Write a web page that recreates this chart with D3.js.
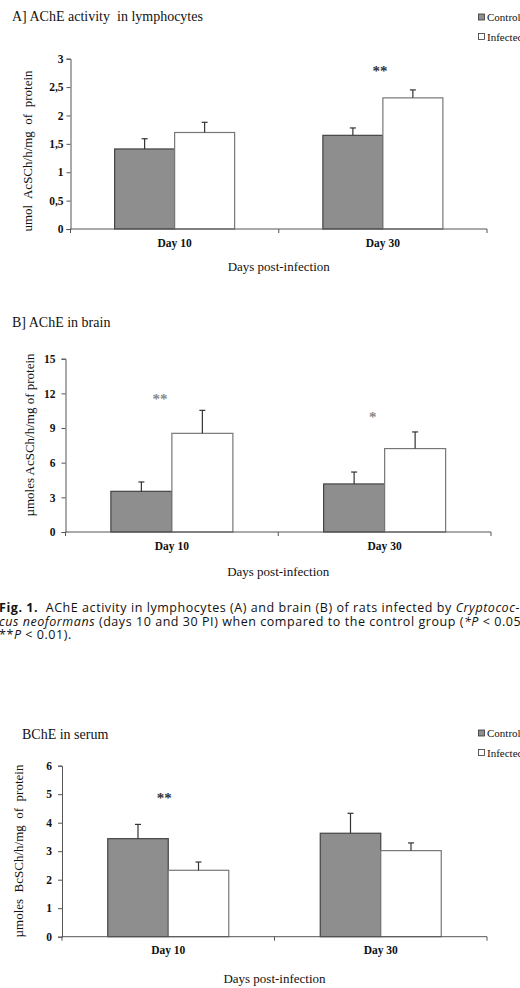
<!DOCTYPE html>
<html>
<head>
<meta charset="utf-8">
<script src="https://cdn.jsdelivr.net/npm/d3@7"></script>
<style>
  body { margin: 0; background: #fff; }
  svg { display: block; }
  text { font-family: "Liberation Serif", "Times New Roman", serif; fill: #111; white-space: pre; }
  .cap text { font-family: "Open Sans", "Noto Sans", sans-serif; }
</style>
</head>
<body>
<script>
// data
var days = ["Day 10", "Day 30"];
var groups = ["Control", "Infected"];

// A] lymphocytes
var lymphoControl = [1.41, 1.65];
var lymphoControlErr = [0.18, 0.13];
var lymphoInfected = [1.70, 2.31];
var lymphoInfectedErr = [0.18, 0.14];
var lymphoStars = ["", "**"];
var lymphoTicks = [0, 0.5, 1, 1.5, 2, 2.5, 3];

// B] brain
var brainControl = [3.52, 4.16];
var brainControlErr = [0.81, 1.03];
var brainInfected = [8.54, 7.22];
var brainInfectedErr = [1.99, 1.44];
var brainStars = ["**", "*"];
var brainTicks = [0, 3, 6, 9, 12, 15];

// BChE serum
var serumControl = [3.44, 3.63];
var serumControlErr = [0.50, 0.70];
var serumInfected = [2.33, 3.02];
var serumInfectedErr = [0.29, 0.27];
var serumStars = ["**", ""];
var serumTicks = [0, 1, 2, 3, 4, 5, 6];

var svg = d3.select("body").append("svg")
    .attr("width", 520)
    .attr("height", 988);

function rows(ctrl, ctrlErr, inf, infErr) {
  var out = [];
  days.forEach(function(d, i) {
    out.push({day: d, group: "Control", v: ctrl[i], e: ctrlErr[i]});
    out.push({day: d, group: "Infected", v: inf[i], e: infErr[i]});
  });
  return out;
}

function panel(p) {
  var g = svg.append("g");
  var x0 = d3.scaleBand().domain(days).range([p.left, p.right]);
  var x1 = d3.scaleBand().domain(groups).range([-p.barW, p.barW]);
  var y = d3.scaleLinear().domain([0, d3.max(p.ticks)]).range([p.bottom, p.top]);
  var data = rows(p.ctrl, p.ctrlErr, p.inf, p.infErr);
  var cx = function(d) { return x0(d) + x0.bandwidth() / 2; };

  // title
  g.append("text").attr("x", p.titleX).attr("y", p.titleY)
    .style("font-size", "14px").text(p.title);

  // bars
  g.selectAll("rect.bar").data(data).enter().append("rect")
    .attr("x", function(d) { return cx(d.day) + x1(d.group); })
    .attr("y", function(d) { return y(d.v); })
    .attr("width", x1.bandwidth())
    .attr("height", function(d) { return y(0) - y(d.v); })
    .attr("fill", function(d) { return d.group == "Control" ? "#8e8e8e" : "#fff"; })
    .attr("stroke", function(d) { return d.group == "Control" ? "#444" : "#777"; })
    .attr("stroke-width", 1.2);

  // error bars (upper only)
  var eb = g.selectAll("g.err").data(data).enter().append("g")
    .attr("transform", function(d) { return "translate(" + (cx(d.day) + x1(d.group) + x1.bandwidth() / 2) + ",0)"; });
  eb.append("line").attr("x1", 0).attr("x2", 0)
    .attr("y1", function(d) { return y(d.v); })
    .attr("y2", function(d) { return y(d.v + d.e); })
    .attr("stroke", "#333").attr("stroke-width", 1.2);
  eb.append("line").attr("x1", -3).attr("x2", 3)
    .attr("y1", function(d) { return y(d.v + d.e); })
    .attr("y2", function(d) { return y(d.v + d.e); })
    .attr("stroke", "#333").attr("stroke-width", 1.2);

  // significance marks
  g.selectAll("text.star").data(days).enter().append("text")
    .attr("x", function(d) { return cx(d) + p.starDx; })
    .attr("y", function(d, i) {
      var top = d3.max(data.filter(function(r) { return r.day == d; }), function(r) { return r.v + r.e; });
      return y(top) - p.starDy[i];
    })
    .attr("text-anchor", "middle")
    .style("font-size", "15px").style("font-weight", "bold")
    .style("fill", p.starColor)
    .text(function(d, i) { return p.stars[i]; });

  // y axis
  var ya = g.append("g").attr("transform", "translate(" + p.left + ",0)")
    .call(d3.axisLeft(y).tickValues(p.ticks).tickSize(4).tickPadding(p.tickPad)
      .tickFormat(function(v) { return String(v).replace(".", ","); }));
  ya.select(".domain").attr("stroke", "#555");
  ya.selectAll(".tick line").attr("stroke", "#555");
  ya.selectAll(".tick text").style("font-family", "Liberation Serif, serif")
    .style("font-size", "11.5px").style("font-weight", "bold").attr("fill", "#222");

  // x axis
  var xa = g.append("g").attr("transform", "translate(0," + p.bottom + ")");
  xa.append("line").attr("x1", p.left).attr("x2", p.right).attr("stroke", "#555");
  xa.selectAll("line.tk").data([p.left, x0(days[1]), p.right]).enter().append("line")
    .attr("x1", function(d) { return d; }).attr("x2", function(d) { return d; })
    .attr("y1", 0).attr("y2", 4).attr("stroke", "#555");
  xa.selectAll("text").data(days).enter().append("text")
    .attr("x", function(d) { return cx(d); })
    .attr("y", p.dayDy)
    .attr("text-anchor", "middle")
    .style("font-size", "11.5px").style("font-weight", "bold")
    .text(function(d) { return d; });

  g.append("text")
    .attr("x", (p.left + p.right) / 2).attr("y", p.bottom + p.xTitleDy)
    .attr("text-anchor", "middle").style("font-size", "13px")
    .text("Days post-infection");

  g.append("text")
    .attr("transform", "translate(" + p.yLabelX + "," + p.yLabelY + ") rotate(-90)")
    .attr("text-anchor", "middle").style("font-size", "13px")
    .text(p.yLabel);

  if (p.legendY != null) {
    var lg = g.selectAll("g.leg").data(groups).enter().append("g")
      .attr("transform", function(d, i) { return "translate(478," + (p.legendY + i * 19.5) + ")"; });
    lg.append("rect").attr("x", 0.5).attr("y", -7).attr("width", 6).attr("height", 6)
      .attr("fill", function(d) { return d == "Control" ? "#8e8e8e" : "#fff"; })
      .attr("stroke", "#333").attr("stroke-width", 0.8);
    lg.append("text").attr("x", 9).attr("y", 0)
      .style("font-size", "11px").text(function(d) { return d; });
  }
}

panel({
  title: "A] AChE activity  in lymphocytes", titleX: 12, titleY: 21,
  left: 70.5, right: 487, top: 58.7, bottom: 229, barW: 60,
  ctrl: lymphoControl, ctrlErr: lymphoControlErr, inf: lymphoInfected, infErr: lymphoInfectedErr,
  ticks: lymphoTicks, tickPad: 3, stars: lymphoStars, starDx: -3, starDy: [0, 14], starColor: "#333",
  dayDy: 18, xTitleDy: 42,
  yLabel: "umol  AcSCh/h/mg  of  protein", yLabelX: 32, yLabelY: 151,
  legendY: 21
});

panel({
  title: "B] AChE in brain", titleX: 12, titleY: 327,
  left: 65.5, right: 491, top: 358.7, bottom: 532, barW: 61,
  ctrl: brainControl, ctrlErr: brainControlErr, inf: brainInfected, infErr: brainInfectedErr,
  ticks: brainTicks, tickPad: 6, stars: brainStars, starDx: -12, starDy: [6, 10], starColor: "#888",
  dayDy: 18, xTitleDy: 44,
  yLabel: "µmoles AcSCh/h/mg of protein", yLabelX: 34, yLabelY: 435,
  legendY: null
});

panel({
  title: "BChE in serum", titleX: 22, titleY: 739,
  left: 62, right: 487, top: 765.7, bottom: 936.7, barW: 60.5,
  ctrl: serumControl, ctrlErr: serumControlErr, inf: serumInfected, infErr: serumInfectedErr,
  ticks: serumTicks, tickPad: 6, stars: serumStars, starDx: -4, starDy: [21, 0], starColor: "#333",
  dayDy: 17, xTitleDy: 46,
  yLabel: "µmoles  BcSCh/h/mg  of  protein", yLabelX: 23, yLabelY: 851,
  legendY: 737
});

// figure caption
var cap = svg.append("g").attr("class", "cap");
var capLines = [
  [["Fig. 1.", "bold", "normal"], ["  AChE activity in lymphocytes (A) and brain (B) of rats infected by ", "normal", "normal"], ["Cryptococ-", "normal", "italic"]],
  [["cus neoformans", "normal", "italic"], [" (days 10 and 30 PI) when compared to the control group (", "normal", "normal"], ["*P", "normal", "italic"], [" < 0.05;", "normal", "normal"]],
  [["**", "normal", "normal"], ["P", "normal", "italic"], [" < 0.01).", "normal", "normal"]]
];
cap.selectAll("text").data(capLines).enter().append("text")
  .attr("x", -1)
  .attr("y", function(d, i) { return 612 + i * 13.5; })
  .style("font-size", "12.5px").style("letter-spacing", "0.55px").attr("fill", "#222")
  .selectAll("tspan").data(function(d) { return d; }).enter().append("tspan")
  .style("font-weight", function(d) { return d[1]; })
  .style("font-style", function(d) { return d[2]; })
  .text(function(d) { return d[0]; });
</script>
</body>
</html>
